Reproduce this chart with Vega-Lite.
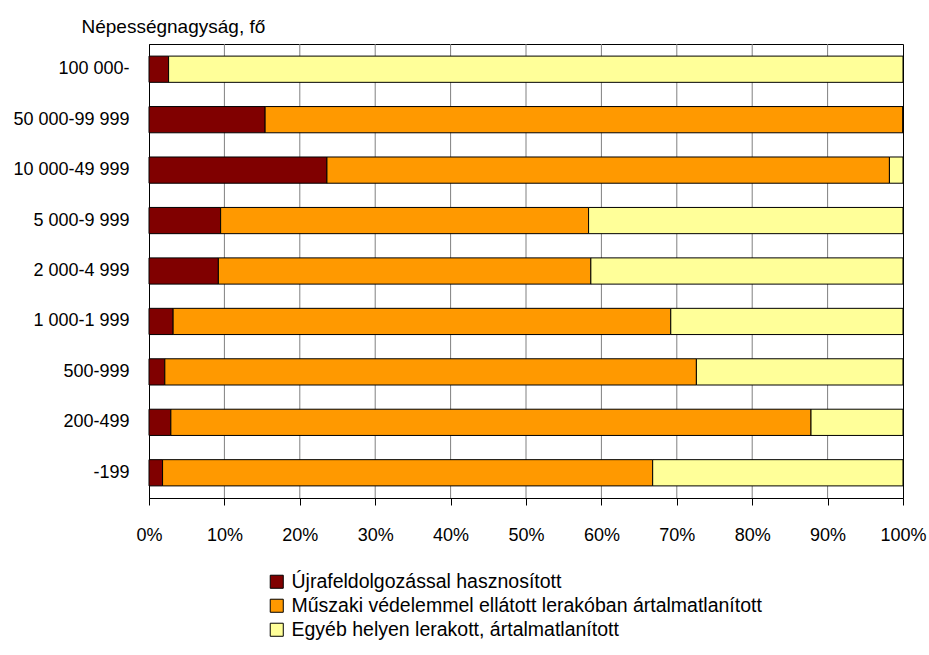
{
  "$schema": "https://vega.github.io/schema/vega-lite/v6.json",
  "width": 754,
  "height": 454,
  "autosize": {"type": "none"},
  "padding": {"left": 149, "top": 44, "right": 26, "bottom": 157},
  "background": "white",
  "config": {
    "font": "Liberation Sans",
    "view": {"stroke": "#000000", "strokeWidth": 1}
  },
  "datasets": {
    "grid": [{"g": 10}, {"g": 20}, {"g": 30}, {"g": 40}, {"g": 50}, {"g": 60}, {"g": 70}, {"g": 80}, {"g": 90}],
    "bars": [
      {"cat": "100 000-", "k": 1, "type": "Újrafeldolgozással hasznosított", "v": 2.6},
      {"cat": "100 000-", "k": 2, "type": "Műszaki védelemmel ellátott lerakóban ártalmatlanított", "v": 0},
      {"cat": "100 000-", "k": 3, "type": "Egyéb helyen lerakott, ártalmatlanított", "v": 97.4},
      {"cat": "50 000-99 999", "k": 1, "type": "Újrafeldolgozással hasznosított", "v": 15.4},
      {"cat": "50 000-99 999", "k": 2, "type": "Műszaki védelemmel ellátott lerakóban ártalmatlanított", "v": 84.6},
      {"cat": "50 000-99 999", "k": 3, "type": "Egyéb helyen lerakott, ártalmatlanított", "v": 0},
      {"cat": "10 000-49 999", "k": 1, "type": "Újrafeldolgozással hasznosított", "v": 23.6},
      {"cat": "10 000-49 999", "k": 2, "type": "Műszaki védelemmel ellátott lerakóban ártalmatlanított", "v": 74.6},
      {"cat": "10 000-49 999", "k": 3, "type": "Egyéb helyen lerakott, ártalmatlanított", "v": 1.8},
      {"cat": "5 000-9 999", "k": 1, "type": "Újrafeldolgozással hasznosított", "v": 9.5},
      {"cat": "5 000-9 999", "k": 2, "type": "Műszaki védelemmel ellátott lerakóban ártalmatlanított", "v": 48.8},
      {"cat": "5 000-9 999", "k": 3, "type": "Egyéb helyen lerakott, ártalmatlanított", "v": 41.7},
      {"cat": "2 000-4 999", "k": 1, "type": "Újrafeldolgozással hasznosított", "v": 9.2},
      {"cat": "2 000-4 999", "k": 2, "type": "Műszaki védelemmel ellátott lerakóban ártalmatlanított", "v": 49.4},
      {"cat": "2 000-4 999", "k": 3, "type": "Egyéb helyen lerakott, ártalmatlanított", "v": 41.4},
      {"cat": "1 000-1 999", "k": 1, "type": "Újrafeldolgozással hasznosított", "v": 3.2},
      {"cat": "1 000-1 999", "k": 2, "type": "Műszaki védelemmel ellátott lerakóban ártalmatlanított", "v": 66.0},
      {"cat": "1 000-1 999", "k": 3, "type": "Egyéb helyen lerakott, ártalmatlanított", "v": 30.8},
      {"cat": "500-999", "k": 1, "type": "Újrafeldolgozással hasznosított", "v": 2.1},
      {"cat": "500-999", "k": 2, "type": "Műszaki védelemmel ellátott lerakóban ártalmatlanított", "v": 70.5},
      {"cat": "500-999", "k": 3, "type": "Egyéb helyen lerakott, ártalmatlanított", "v": 27.4},
      {"cat": "200-499", "k": 1, "type": "Újrafeldolgozással hasznosított", "v": 2.9},
      {"cat": "200-499", "k": 2, "type": "Műszaki védelemmel ellátott lerakóban ártalmatlanított", "v": 84.9},
      {"cat": "200-499", "k": 3, "type": "Egyéb helyen lerakott, ártalmatlanított", "v": 12.2},
      {"cat": "-199", "k": 1, "type": "Újrafeldolgozással hasznosított", "v": 1.8},
      {"cat": "-199", "k": 2, "type": "Műszaki védelemmel ellátott lerakóban ártalmatlanított", "v": 65.0},
      {"cat": "-199", "k": 3, "type": "Egyéb helyen lerakott, ártalmatlanított", "v": 33.2}
    ]
  },
  "layer": [
    {
      "data": {"name": "grid"},
      "mark": {"type": "rule", "color": "#808080", "strokeWidth": 1},
      "encoding": {
        "x": {"field": "g", "type": "quantitative"}
      }
    },
    {
      "data": {"name": "bars"},
      "mark": {"type": "bar", "stroke": "#000000", "strokeWidth": 1},
      "encoding": {
        "y": {
          "field": "cat",
          "type": "nominal",
          "sort": ["100 000-", "50 000-99 999", "10 000-49 999", "5 000-9 999", "2 000-4 999", "1 000-1 999", "500-999", "200-499", "-199"],
          "scale": {"paddingInner": 0.48, "paddingOuter": 0.24},
          "axis": {
            "title": "Népességnagyság, fő",
            "titleAngle": 0,
            "titleAlign": "left",
            "titleBaseline": "alphabetic",
            "titleX": -68,
            "titleY": -12,
            "titleFontSize": 19,
            "titleFontWeight": "normal",
            "titleColor": "#000000",
            "labelFontSize": 18,
            "labelColor": "#000000",
            "labelPadding": 20,
            "ticks": false,
            "domainColor": "#000000",
            "domainWidth": 1,
            "grid": false
          }
        },
        "x": {
          "field": "v",
          "type": "quantitative",
          "stack": "zero",
          "scale": {"domain": [0, 100], "nice": false},
          "axis": {
            "title": null,
            "values": [0, 10, 20, 30, 40, 50, 60, 70, 80, 90, 100],
            "labelExpr": "datum.value + '%'",
            "labelFlush": false,
            "labelFontSize": 18,
            "labelColor": "#000000",
            "labelPadding": 21,
            "tickSize": 7,
            "tickColor": "#000000",
            "domainColor": "#000000",
            "grid": false
          }
        },
        "color": {
          "field": "type",
          "type": "nominal",
          "sort": ["Újrafeldolgozással hasznosított", "Műszaki védelemmel ellátott lerakóban ártalmatlanított", "Egyéb helyen lerakott, ártalmatlanított"],
          "scale": {
            "domain": ["Újrafeldolgozással hasznosított", "Műszaki védelemmel ellátott lerakóban ártalmatlanított", "Egyéb helyen lerakott, ártalmatlanított"],
            "range": ["#800000", "#FF9900", "#FFFF99"]
          },
          "legend": {
            "title": null,
            "orient": "none",
            "legendX": 118,
            "legendY": 528,
            "symbolType": "square",
            "symbolSize": 170,
            "symbolStrokeColor": "#000000",
            "symbolStrokeWidth": 1,
            "symbolOpacity": 1,
            "labelFontSize": 19.5,
            "labelColor": "#000000",
            "labelOffset": 5,
            "rowPadding": 3,
            "labelLimit": 700
          }
        },
        "order": {"field": "k", "type": "quantitative", "sort": "ascending"}
      }
    }
  ]
}
